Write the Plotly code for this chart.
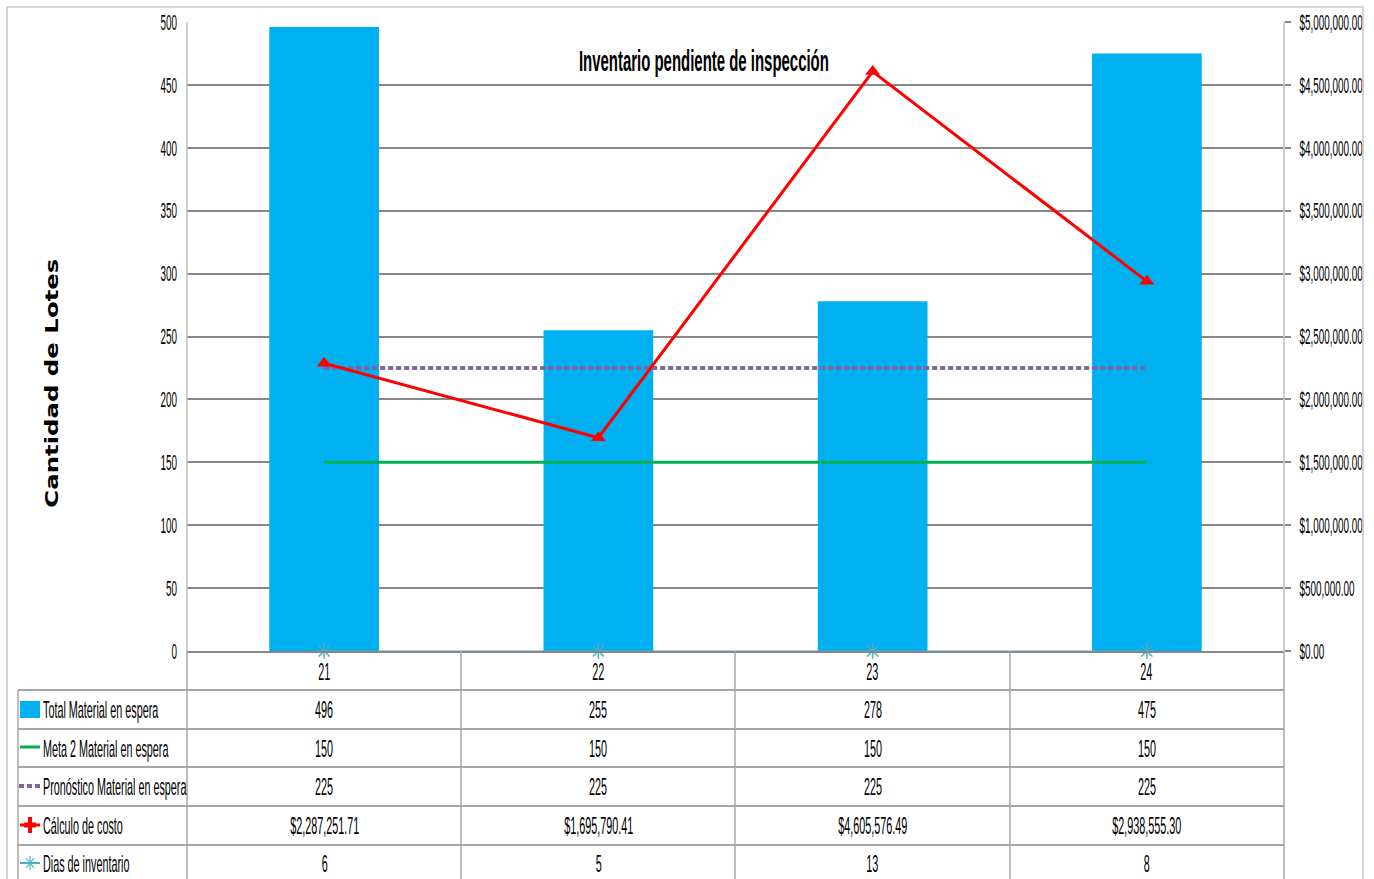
import plotly.graph_objects as go

# Semanas y series del inventario pendiente de inspección
semanas = ["21", "22", "23", "24"]
total_material = [496, 255, 278, 475]
meta2_material = [150, 150, 150, 150]
pronostico_material = [225, 225, 225, 225]
calculo_costo = [2287251.71, 1695790.41, 4605576.49, 2938555.30]
dias_inventario = [6, 5, 13, 8]

serie_nombres = [
    "Total Material en espera",
    "Meta 2 Material en espera",
    "Pronóstico Material en espera",
    "Cálculo de costo",
    "Dias de inventario",
]
titulo = "Inventario pendiente de inspección"
titulo_eje = "Cantidad de Lotes"

# layout grid, expressed on a 1374 x 879 canvas
W, H = 1374, 879
FONT = "Liberation Sans, Arial, sans-serif"
GRID = "#878787"
TABLE_LINE = "#a6a6a6"
CYAN = "#4BACC6"

PX0, PX1 = 187, 1284
PY_TOP, PY_BOT = 22, 651
ROW_Y = [651, 690, 729, 767, 806, 845, 884]


def px(x):
    return x / W


def py(y):
    return 1 - y / H


fig = go.Figure()

fig.add_trace(go.Bar(
    x=semanas, y=total_material, name=serie_nombres[0],
    marker=dict(color="#00B0F0", line=dict(width=0)), width=0.4,
))
fig.add_trace(go.Scatter(
    x=semanas, y=meta2_material, name=serie_nombres[1], mode="lines",
    line=dict(color="#00B050", width=3),
))
fig.add_trace(go.Scatter(
    x=semanas, y=pronostico_material, name=serie_nombres[2], mode="lines",
    line=dict(color="#8064A2", width=4, dash="5px,3px"),
))
fig.add_trace(go.Scatter(
    x=semanas, y=dias_inventario, name=serie_nombres[4], mode="lines+markers",
    yaxis="y2", cliponaxis=False,
    line=dict(color=CYAN, width=1),
    marker=dict(symbol="asterisk-open", size=13, color=CYAN,
                line=dict(color=CYAN, width=1.5)),
))
fig.add_trace(go.Scatter(
    x=semanas, y=calculo_costo, name=serie_nombres[3], mode="lines+markers",
    yaxis="y2", cliponaxis=False,
    line=dict(color="#FF0000", width=3),
    marker=dict(symbol="triangle-up", size=13, color="#FF0000"),
))

shapes = []
# outer chart border
shapes.append(dict(type="rect", xref="paper", yref="paper",
                   x0=px(7), x1=px(1363), y0=py(884), y1=py(7),
                   line=dict(color="#c8c8c8", width=1.5)))
# plot area vertical edges
for xv in (PX0, PX1):
    shapes.append(dict(type="line", xref="paper", yref="paper",
                       x0=px(xv), x1=px(xv), y0=py(PY_BOT), y1=py(PY_TOP),
                       line=dict(color="#bdbdbd", width=1.5)))
# table horizontal lines
for yv in ROW_Y[1:-1]:
    shapes.append(dict(type="line", xref="paper", yref="paper",
                       x0=px(18), x1=px(PX1), y0=py(yv), y1=py(yv),
                       line=dict(color=TABLE_LINE, width=2)))
# table vertical lines
col_edges = [187, 461, 735, 1010, 1284]
for xv in col_edges:
    shapes.append(dict(type="line", xref="paper", yref="paper",
                       x0=px(xv), x1=px(xv), y0=py(ROW_Y[-1]), y1=py(PY_BOT),
                       line=dict(color=TABLE_LINE, width=1.5)))
shapes.append(dict(type="line", xref="paper", yref="paper",
                   x0=px(18), x1=px(18), y0=py(ROW_Y[-1]), y1=py(ROW_Y[1]),
                   line=dict(color=TABLE_LINE, width=1.5)))


def seg(x0, y0, x1, y1, color, width, dash=None):
    line = dict(color=color, width=width)
    if dash:
        line["dash"] = dash
    return dict(type="line", xref="paper", yref="paper",
                x0=px(x0), x1=px(x1), y0=py(y0), y1=py(y1), line=line)


# legend keys of the data table
shapes.append(dict(type="rect", xref="paper", yref="paper",
                   x0=px(20), x1=px(40), y0=py(718), y1=py(701),
                   fillcolor="#00B0F0", line=dict(width=0)))
shapes.append(seg(20, 747, 40, 747, "#00B050", 3))
shapes.append(seg(19, 786, 42, 786, "#8064A2", 4, "5px,3px"))
shapes.append(seg(20, 825, 40, 825, "#FF0000", 3))
shapes.append(seg(24, 825, 36, 825, "#FF0000", 5))
shapes.append(seg(30, 817, 30, 833, "#FF0000", 4))
shapes.append(seg(20, 863, 40, 863, CYAN, 2))
shapes.append(seg(30, 856, 30, 870, CYAN, 1.2))
shapes.append(seg(26, 858, 34, 868, CYAN, 1.2))
shapes.append(seg(26, 868, 34, 858, CYAN, 1.2))

annotations = []
annotations.append(dict(
    text="<b>" + titulo + "</b>", xref="paper", yref="paper",
    x=px(704), y=py(60), xanchor="center", yanchor="middle", showarrow=False,
    font=dict(family=FONT, size=30, color="#000000"),
))
annotations.append(dict(
    text="<b>" + titulo_eje + "</b>", xref="paper", yref="paper",
    x=px(52), y=py(383), textangle=-90, xanchor="center", yanchor="middle",
    showarrow=False,
    font=dict(family="DejaVu Sans, Verdana, sans-serif", size=17, color="#000000"),
))


def fmt_money(v):
    return "${:,.2f}".format(v)


# data table contents, one column per category index
filas = [
    [str(v) for v in total_material],
    [str(v) for v in meta2_material],
    [str(v) for v in pronostico_material],
    [fmt_money(v) for v in calculo_costo],
    [str(v) for v in dias_inventario],
]
cell_font = dict(family=FONT, size=24, color="#000000")
for i, s in enumerate(semanas):
    annotations.append(dict(
        text=s, xref="x", yref="paper", x=i, y=py(671),
        xanchor="center", yanchor="middle", showarrow=False, font=cell_font,
    ))
row_centers = [709, 748, 786, 825, 863]
for r, fila in enumerate(filas):
    yc = row_centers[r]
    annotations.append(dict(
        text=serie_nombres[r], xref="paper", yref="paper", x=px(41), y=py(yc),
        xanchor="left", align="left", yanchor="middle", showarrow=False,
        font=cell_font,
    ))
    for i, val in enumerate(fila):
        annotations.append(dict(
            text=val, xref="x", yref="paper", x=i, y=py(yc),
            xanchor="center", yanchor="middle", showarrow=False, font=cell_font,
        ))

tick_font = dict(family=FONT, size=22, color="#000000")
fig.update_layout(
    autosize=True,
    margin=dict(l=0, r=0, t=0, b=0, autoexpand=False),
    paper_bgcolor="white", plot_bgcolor="white",
    showlegend=False,
    xaxis=dict(
        domain=[px(PX0), px(PX1)], type="category", range=[-0.5, 3.5],
        showticklabels=False, showgrid=False, zeroline=False,
        showline=True, linecolor=GRID, linewidth=1.5, ticks="",
    ),
    yaxis=dict(
        domain=[py(PY_BOT), py(PY_TOP)], range=[0, 500], dtick=50,
        showgrid=True, gridcolor=GRID, gridwidth=1.6, zeroline=False,
        showline=False, ticks="", ticklabelstandoff=9, tickfont=tick_font,
    ),
    yaxis2=dict(
        overlaying="y", side="right", anchor="x", range=[0, 5000000],
        dtick=500000, tickformat="$,.2f", showgrid=False, zeroline=False,
        showline=False, ticks="outside", ticklen=6, tickcolor=GRID, tickwidth=1.5,
        ticklabelstandoff=4, tickfont=tick_font,
    ),
    shapes=shapes,
    annotations=annotations,
)

# The chart fills the whole window; horizontal labels get narrow glyphs
# (condensed face emulation) and the rotated axis title is stretched.
post_js = """
var gd = document.getElementById('{plot_id}');
document.documentElement.style.margin = '0';
document.documentElement.style.overflow = 'hidden';
document.body.style.margin = '0';
document.body.style.overflow = 'hidden';
gd.style.position = 'fixed';
gd.style.left = '0';
gd.style.top = '0';
gd.style.width = '100vw';
gd.style.height = '100vh';
function condense() {
  gd.querySelectorAll('text').forEach(function (t) {
    var content = t.textContent;
    if (!content) return;
    t.removeAttribute('textLength');
    t.removeAttribute('lengthAdjust');
    var w = t.getComputedTextLength();
    if (!w) return;
    var target = w * 0.45;
    if (content === '%AXIS%') target = 249;
    if (content === '%TITLE%') target = 250;
    t.setAttribute('lengthAdjust', 'spacingAndGlyphs');
    t.setAttribute('textLength', target);
  });
}
gd.on('plotly_afterplot', condense);
condense();
Plotly.Plots.resize(gd).then(condense);
""".replace("%AXIS%", titulo_eje).replace("%TITLE%", titulo)

fig.write_html("out.html", post_script=post_js,
               default_width="100vw", default_height="100vh",
               config={"displayModeBar": False, "responsive": True})
